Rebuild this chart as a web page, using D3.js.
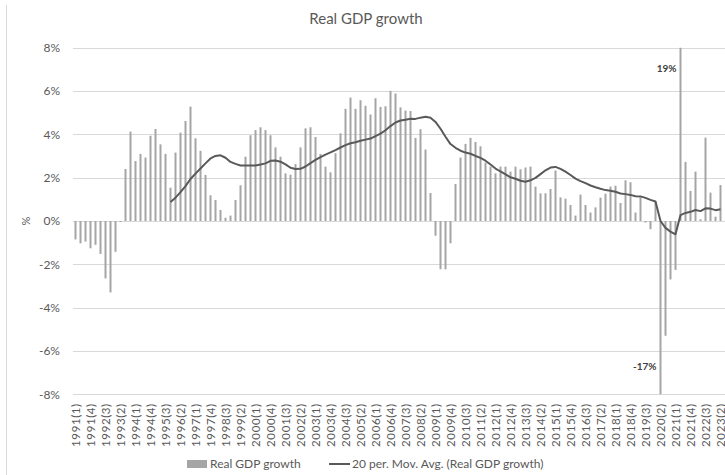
<!DOCTYPE html>
<html>
<head>
<meta charset="utf-8">
<script src="https://cdn.jsdelivr.net/npm/d3@7"></script>
<style>
  body { margin: 0; background: #fff; }
  svg { display: block; font-family: Lato, "Open Sans", sans-serif; }
  .tick text { fill: #595959; }
</style>
</head>
<body>
<div id="chart"></div>
<script>
// quarterly real GDP growth (y/y, %), 1991 Q1 .. 2023 Q2
const startYear = 1991;
const growth = [
  -0.85, -1.03, -0.95, -1.26, -1.1, -1.52, -2.65, -3.3, -1.42, -0.05,
  2.4, 4.13, 2.77, 3.1, 2.93, 3.94, 4.25, 3.54, 3.1, 1.54,
  3.16, 4.08, 4.62, 5.28, 3.82, 3.24, 2.13, 1.19, 0.97, 0.51,
  0.15, 0.25, 0.97, 1.65, 2.97, 3.96, 4.2, 4.33, 4.2, 3.96,
  3.4, 2.97, 2.2, 2.14, 2.63, 3.4, 4.28, 4.33, 3.88, 3.1,
  2.51, 2.25, 3.13, 4.05, 5.18, 5.7, 5.18, 5.58, 5.32, 4.92,
  5.67, 5.27, 5.3, 6.01, 5.89, 5.25, 5.1, 5.08, 3.84, 4.24,
  3.3, 1.29, -0.68, -2.23, -2.23, -1.03, 1.71, 2.93, 3.56, 3.84,
  3.65, 3.45, 2.7, 2.51, 2.2, 2.51, 2.51, 2.28, 2.51, 2.39,
  2.47, 2.51, 1.59, 1.28, 1.28, 1.48, 2.33, 1.09, 1.03, 0.74,
  0.25, 1.22, 0.74, 0.39, 0.63, 1.08, 1.26, 1.59, 1.63, 0.83,
  1.88, 1.79, 0.39, 1.09, -0.07, -0.38, 0.9, -17, -5.3, -2.7,
  -2.26, 19, 2.73, 1.39, 2.28, 0.08, 3.85, 1.31, 0.2, 1.66
];
const quarters = growth.map((_, i) => `${startYear + Math.floor(i / 4)}(${i % 4 + 1})`);
const yTicks = [-8, -6, -4, -2, 0, 2, 4, 6, 8];
const maPeriod = 20;
// labelled outliers (values run off the axis)
const callouts = [{ q: "2021(2)", text: "19%" }, { q: "2020(2)", text: "-17%" }];

const W = 725, H = 475;
const plot = { left: 73, right: 725, top: 47.8, bottom: 394.2 };

const svg = d3.select("#chart").append("svg").attr("width", W).attr("height", H);

// chart area border (only the left edge is inside the frame)
svg.append("line").attr("x1", 6.5).attr("x2", 6.5).attr("y1", 5).attr("y2", H)
  .attr("stroke", "#d9d9d9");

svg.append("text").attr("x", 366).attr("y", 24).attr("text-anchor", "middle")
  .attr("fill", "#595959").attr("font-size", 15).text("Real GDP growth");

const x = d3.scaleBand().domain(quarters).range([73, 723]).paddingInner(0.6).paddingOuter(0.3);
const y = d3.scaleLinear().domain([-8, 8]).range([plot.bottom, plot.top]);

// gridlines
svg.append("g").selectAll("line").data(yTicks).join("line")
  .attr("x1", plot.left).attr("x2", plot.right)
  .attr("y1", d => Math.round(y(d)) + 0.5).attr("y2", d => Math.round(y(d)) + 0.5)
  .attr("stroke", "#d9d9d9");

// y axis labels
const yAxis = svg.append("g").attr("transform", "translate(60,0)")
  .call(d3.axisLeft(y).tickValues(yTicks).tickSize(0).tickPadding(0).tickFormat(d => d + "%"));
yAxis.select(".domain").remove();
yAxis.selectAll("text").attr("font-size", 12).attr("font-family", "Lato, sans-serif");

svg.append("text").attr("transform", `translate(30,${y(0)}) rotate(-90)`)
  .attr("text-anchor", "middle").attr("fill", "#595959").attr("font-size", 11).text("%");

// x axis labels, every third quarter
const xAxis = svg.append("g").attr("transform", `translate(0,${plot.bottom})`)
  .call(d3.axisBottom(x).tickValues(quarters.filter((_, i) => i % 3 === 0)).tickSize(0));
xAxis.select(".domain").remove();
xAxis.selectAll("text")
  .attr("transform", "rotate(-90)")
  .attr("text-anchor", "end")
  .attr("x", -9).attr("y", 0).attr("dy", "0.35em")
  .attr("font-size", 11.5).attr("font-family", "Lato, sans-serif")
  .attr("letter-spacing", 0.6);

// bars, clipped to the plot area
svg.append("clipPath").attr("id", "clip").append("rect")
  .attr("x", plot.left).attr("y", plot.top)
  .attr("width", plot.right - plot.left).attr("height", plot.bottom - plot.top);

svg.append("g").attr("clip-path", "url(#clip)").selectAll("rect")
  .data(growth.map((v, i) => ({ q: quarters[i], v })))
  .join("rect")
  .attr("x", d => x(d.q))
  .attr("width", x.bandwidth())
  .attr("y", d => y(Math.max(0, d.v)))
  .attr("height", d => Math.abs(y(d.v) - y(0)))
  .attr("fill", "#a5a5a5");

// 20-period trailing moving average trendline
const ma = growth.map((v, i) => i < maPeriod - 1 ? null
  : { q: quarters[i], v: d3.mean(growth.slice(i - maPeriod + 1, i + 1)) }).filter(Boolean);

svg.append("path").datum(ma)
  .attr("fill", "none").attr("stroke", "#595959").attr("stroke-width", 2)
  .attr("stroke-linejoin", "round")
  .attr("d", d3.line().x(d => x(d.q) + x.bandwidth() / 2).y(d => y(d.v)));

// data labels for the clipped outliers
const outlierY = { "19%": 68, "-17%": 366 };
svg.append("g").selectAll("text").data(callouts).join("text")
  .attr("x", d => x(d.q) - 3)
  .attr("y", d => outlierY[d.text])
  .attr("dy", "0.35em")
  .attr("text-anchor", "end")
  .attr("font-size", 10).attr("font-weight", 700).attr("fill", "#404040")
  .text(d => d.text);

// legend
const lg = svg.append("g").attr("font-size", 12).attr("fill", "#595959");
lg.append("rect").attr("x", 187).attr("y", 460).attr("width", 20).attr("height", 8).attr("fill", "#a5a5a5");
lg.append("text").attr("x", 210).attr("y", 464).attr("dy", "0.35em").text("Real GDP growth");
lg.append("line").attr("x1", 329).attr("x2", 350).attr("y1", 464).attr("y2", 464)
  .attr("stroke", "#595959").attr("stroke-width", 2);
lg.append("text").attr("x", 352).attr("y", 464).attr("dy", "0.35em").text("20 per. Mov. Avg. (Real GDP growth)");
</script>
</body>
</html>
